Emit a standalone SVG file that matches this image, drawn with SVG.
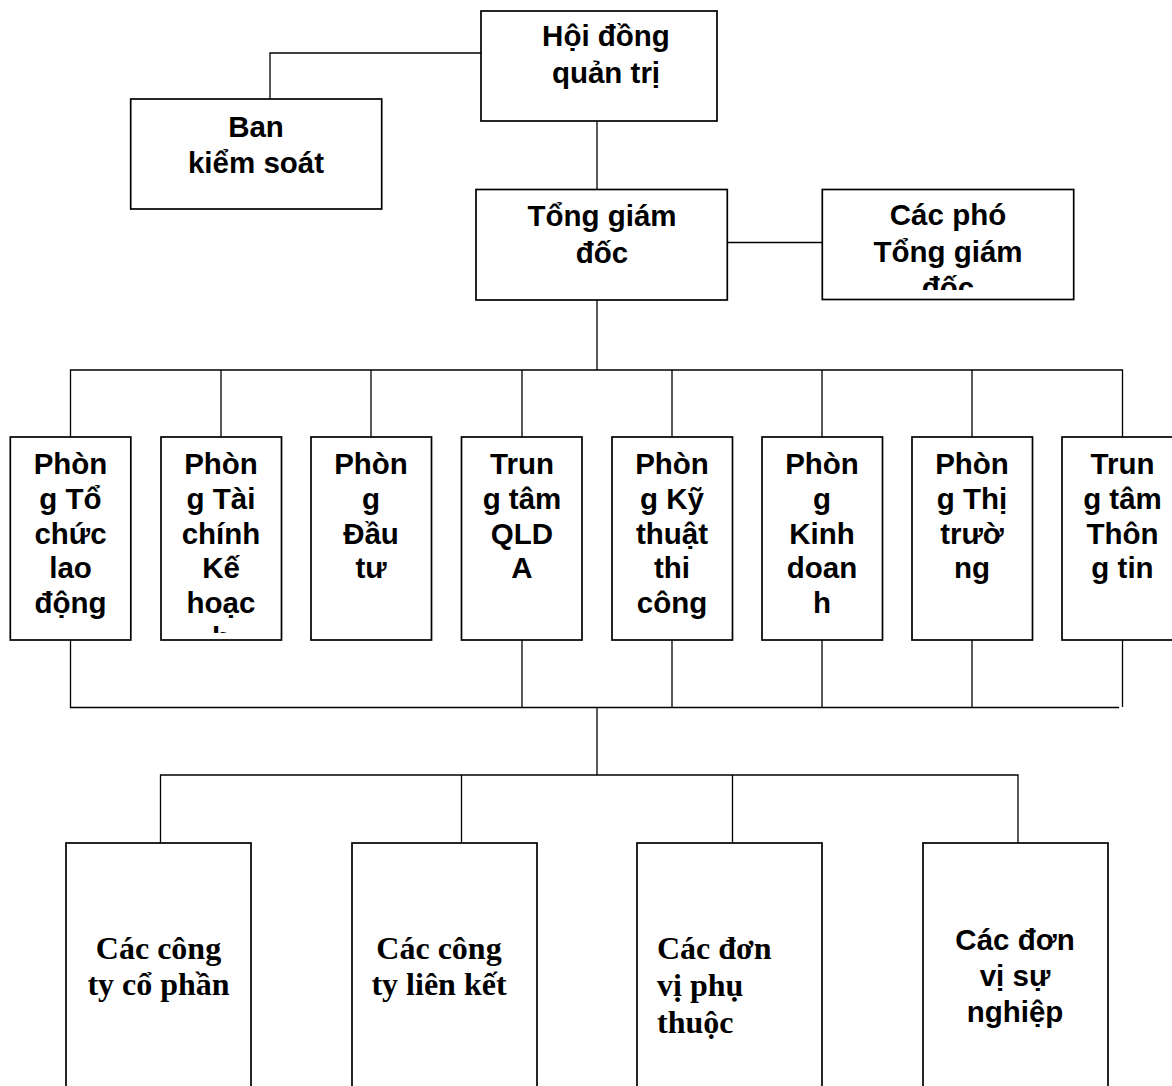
<svg xmlns="http://www.w3.org/2000/svg" width="1172" height="1086" viewBox="0 0 1172 1086">
<style>
.box{fill:#fff;stroke:#000;stroke-width:1.7}
.ln{fill:none;stroke:#000;stroke-width:1.3}
.t{font-family:"Liberation Sans",Arial,sans-serif;font-weight:bold;font-size:29.5px;fill:#000;text-anchor:middle}
.s{font-family:"Liberation Serif","Times New Roman",serif;font-weight:bold;font-size:32px;fill:#000;text-anchor:middle}
.sl{text-anchor:start}
</style>
<defs>
<clipPath id="clipPho"><rect x="822" y="189" width="252" height="101"/></clipPath>
<clipPath id="clipP2"><rect x="161" y="437" width="121" height="196"/></clipPath>
</defs>
<rect width="1172" height="1086" fill="#fff"/>
<g id="connectors">
<path class="ln" d="M481 53 H270 V99"/>
<path class="ln" d="M597 121 V189"/>
<path class="ln" d="M727 242.5 H822"/>
<path class="ln" d="M597 300 V370"/>
<path class="ln" d="M70.5 437 V370 H1122.5 V437"/>
<path class="ln" d="M221 370 V437 M371 370 V437 M522 370 V437 M672 370 V437 M822 370 V437 M972 370 V437"/>
<path class="ln" d="M70.5 640 V707.5 H1119"/>
<path class="ln" d="M522 640 V707.5 M672 640 V707.5 M822 640 V707.5 M972 640 V707.5 M1122.5 640 V707"/>
<path class="ln" d="M597 707.5 V775"/>
<path class="ln" d="M160.5 843 V775 H1018 V843 M461.5 775 V843 M732.5 775 V843"/>
</g>
<g id="hdqt">
<rect class="box" x="481" y="11" width="236" height="110"/>
<text class="t" x="606" y="45.7">Hội đồng</text>
<text class="t" x="606" y="83">quản trị</text>
</g>
<g id="bks">
<rect class="box" x="130.7" y="99" width="251" height="110"/>
<text class="t" x="256" y="136.7">Ban</text>
<text class="t" x="256" y="173">kiểm soát</text>
</g>
<g id="tgd">
<rect class="box" x="476" y="189.5" width="251.3" height="110.5"/>
<text class="t" x="602" y="226">Tổng giám</text>
<text class="t" x="602" y="262.7">đốc</text>
</g>
<g id="pho">
<rect class="box" x="822.3" y="189.5" width="251.4" height="110"/>
<g clip-path="url(#clipPho)">
<text class="t" x="948" y="225">Các phó</text>
<text class="t" x="948" y="261.7">Tổng giám</text>
<text class="t" x="948" y="298.4">đốc</text>
</g>
</g>
<g id="p1">
<rect class="box" x="10.3" y="437" width="120.5" height="203"/>
<text class="t" x="70.5" y="474.3">Phòn</text>
<text class="t" x="70.5" y="509">g Tổ</text>
<text class="t" x="70.5" y="543.7">chức</text>
<text class="t" x="70.5" y="578.4">lao</text>
<text class="t" x="70.5" y="613.1">động</text>
</g>
<g id="p2">
<rect class="box" x="161" y="437" width="120.5" height="203"/>
<g clip-path="url(#clipP2)">
<text class="t" x="221" y="474.3">Phòn</text>
<text class="t" x="221" y="509">g Tài</text>
<text class="t" x="221" y="543.7">chính</text>
<text class="t" x="221" y="578.4">Kế</text>
<text class="t" x="221" y="613.1">hoạc</text>
<text class="t" x="221" y="647.8">h</text>
</g>
</g>
<g id="p3">
<rect class="box" x="311" y="437" width="120.5" height="203"/>
<text class="t" x="371" y="474.3">Phòn</text>
<text class="t" x="371" y="509">g</text>
<text class="t" x="371" y="543.7">Đầu</text>
<text class="t" x="371" y="578.4">tư</text>
</g>
<g id="p4">
<rect class="box" x="461.5" y="437" width="120.5" height="203"/>
<text class="t" x="522" y="474.3">Trun</text>
<text class="t" x="522" y="509">g tâm</text>
<text class="t" x="522" y="543.7">QLD</text>
<text class="t" x="522" y="578.4">A</text>
</g>
<g id="p5">
<rect class="box" x="612" y="437" width="120.5" height="203"/>
<text class="t" x="672" y="474.3">Phòn</text>
<text class="t" x="672" y="509">g Kỹ</text>
<text class="t" x="672" y="543.7">thuật</text>
<text class="t" x="672" y="578.4">thi</text>
<text class="t" x="672" y="613.1">công</text>
</g>
<g id="p6">
<rect class="box" x="762" y="437" width="120.5" height="203"/>
<text class="t" x="822" y="474.3">Phòn</text>
<text class="t" x="822" y="509">g</text>
<text class="t" x="822" y="543.7">Kinh</text>
<text class="t" x="822" y="578.4">doan</text>
<text class="t" x="822" y="613.1">h</text>
</g>
<g id="p7">
<rect class="box" x="912" y="437" width="120.5" height="203"/>
<text class="t" x="972" y="474.3">Phòn</text>
<text class="t" x="972" y="509">g Thị</text>
<text class="t" x="972" y="543.7">trườ</text>
<text class="t" x="972" y="578.4">ng</text>
</g>
<g id="p8">
<rect class="box" x="1062" y="437" width="120.5" height="203"/>
<text class="t" x="1122.5" y="474.3">Trun</text>
<text class="t" x="1122.5" y="509">g tâm</text>
<text class="t" x="1122.5" y="543.7">Thôn</text>
<text class="t" x="1122.5" y="578.4">g tin</text>
</g>
<g id="b1">
<rect class="box" x="66" y="843" width="185" height="260"/>
<text class="s" x="158.5" y="959">Các công</text>
<text class="s" x="158.5" y="995">ty cổ phần</text>
</g>
<g id="b2">
<rect class="box" x="352" y="843" width="185" height="260"/>
<text class="s" x="439" y="959">Các công</text>
<text class="s" x="439" y="995">ty liên kết</text>
</g>
<g id="b3">
<rect class="box" x="637" y="843" width="185" height="260"/>
<text class="s sl" x="657" y="959">Các đơn</text>
<text class="s sl" x="657" y="996">vị phụ</text>
<text class="s sl" x="657" y="1033">thuộc</text>
</g>
<g id="b4">
<rect class="box" x="923" y="843" width="185" height="260"/>
<text class="t" x="1015" y="950">Các đơn</text>
<text class="t" x="1015" y="986">vị sự</text>
<text class="t" x="1015" y="1022">nghiệp</text>
</g>
</svg>
